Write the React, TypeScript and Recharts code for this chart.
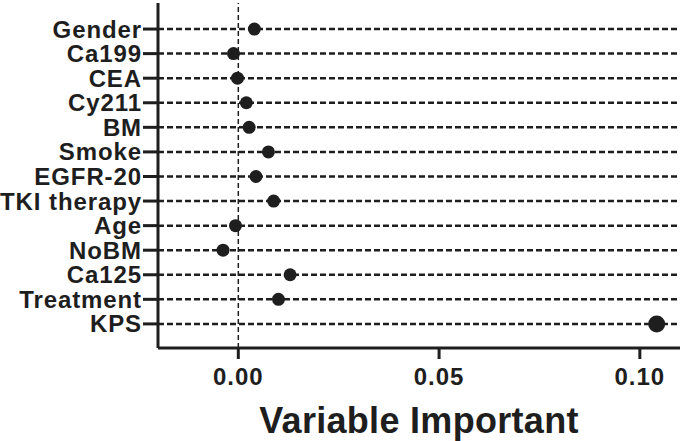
import { ScatterChart, Scatter, XAxis, YAxis, ReferenceLine } from 'recharts';

// variables listed top to bottom
const variables = [
  'Gender', 'Ca199', 'CEA', 'Cy211', 'BM', 'Smoke', 'EGFR-20',
  'TKI therapy', 'Age', 'NoBM', 'Ca125', 'Treatment', 'KPS',
];
const importance = [
  0.004, -0.0012, -0.0002, 0.002, 0.0027, 0.0075, 0.0044,
  0.0088, -0.0007, -0.0038, 0.0129, 0.01, 0.1042,
];
const xTicks = [0, 0.05, 0.1];

const data = variables.map((name, i) => ({ name, x: importance[i], y: i }));
const rowTicks = variables.map((_, i) => i);

const font = '"Liberation Sans", Arial, Helvetica, sans-serif';
const ink = '#1e1e1e';

const Dot = (props: any) => {
  const { cx, cy, payload } = props;
  const r = payload.x > 0.05 ? 8.5 : 6.5;
  return <circle cx={cx} cy={cy} r={r} fill={ink} />;
};

const AxisTitle = (props: any) => {
  const { viewBox } = props;
  return (
    <text
      x={viewBox.x + viewBox.width / 2}
      y={viewBox.y + 85}
      textAnchor="middle"
      fontFamily={font}
      fontWeight="bold"
      fontSize={36}
      letterSpacing={0.3}
      fill={ink}
    >
      Variable Important
    </text>
  );
};

export default function App() {
  return (
    <div style={{ position: 'absolute', left: 0, top: 0, background: '#fff' }}>
      <ScatterChart width={685} height={441} margin={{ top: 3, right: 5, bottom: 0, left: 0 }}>
        {rowTicks.map((i) => (
          <ReferenceLine key={i} y={i} stroke={ink} strokeWidth={2.5} strokeDasharray="6 3" />
        ))}
        <ReferenceLine x={0} stroke={ink} strokeWidth={1.5} strokeDasharray="5 3" />
        <XAxis
          type="number"
          dataKey="x"
          domain={[-0.02, 0.11]}
          allowDataOverflow
          ticks={xTicks}
          tickFormatter={(v: number) => v.toFixed(2)}
          height={93}
          axisLine={{ stroke: ink, strokeWidth: 3 }}
          tickLine={{ stroke: ink, strokeWidth: 3 }}
          tickSize={11}
          tickMargin={9}
          tick={{ fontFamily: font, fontWeight: 'bold', fontSize: 24, letterSpacing: 1, fill: ink }}
          label={<AxisTitle />}
        />
        <YAxis
          type="number"
          dataKey="y"
          reversed
          domain={[-1.06, 12.98]}
          allowDataOverflow
          ticks={rowTicks}
          interval={0}
          tickFormatter={(v: number) => variables[v]}
          width={158}
          axisLine={{ stroke: ink, strokeWidth: 3 }}
          tickLine={{ stroke: ink, strokeWidth: 3 }}
          tickSize={15}
          tickMargin={1}
          tick={{ fontFamily: font, fontWeight: 'bold', fontSize: 24, letterSpacing: 0.9, fill: ink }}
        />
        <Scatter data={data} shape={<Dot />} isAnimationActive={false} />
      </ScatterChart>
    </div>
  );
}
